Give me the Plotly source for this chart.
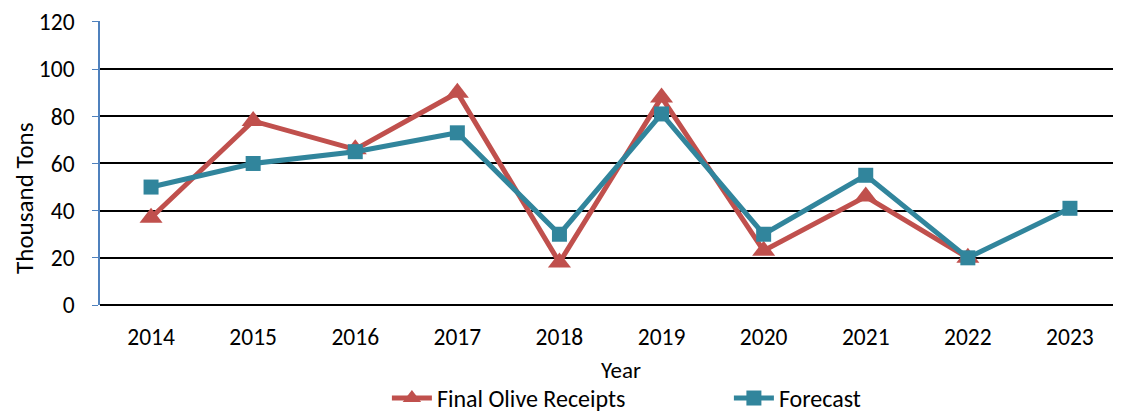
import plotly.graph_objects as go

years = ["2014", "2015", "2016", "2017", "2018", "2019", "2020", "2021", "2022", "2023"]
final_receipts = [37, 78, 66, 90, 18, 88, 23, 46, 20, None]
forecast = [50, 60, 65, 73, 30, 81, 30, 55, 20, 41]

FONT = "Carlito, Calibri, Lato, sans-serif"
RED = "#C0504D"
TEAL = "#31859C"

fig = go.Figure()
fig.add_trace(go.Scatter(
    x=years, y=final_receipts, name="Final Olive Receipts", mode="lines+markers",
    line=dict(color=RED, width=5), marker=dict(symbol="triangle-up", size=20, color=RED),
    connectgaps=False,
))
fig.add_trace(go.Scatter(
    x=years, y=forecast, name="Forecast", mode="lines+markers",
    line=dict(color=TEAL, width=5), marker=dict(symbol="square", size=15, color=TEAL),
))

fig.update_layout(
    width=1113, height=405,
    margin=dict(l=92, r=0, t=13, b=108, autoexpand=False),
    paper_bgcolor="white", plot_bgcolor="white",
    font=dict(family=FONT, size=23, color="black"),
    showlegend=True,
    legend=dict(orientation="h", x=0.281, xanchor="left", yref="container", y=0.036, yanchor="middle",
                font=dict(size=24), itemwidth=40, entrywidth=287, traceorder="normal",
                bgcolor="rgba(0,0,0,0)"),
    annotations=[
        dict(text="Thousand Tons", textangle=-90, xref="paper", yref="paper",
             x=-0.0735, y=0.377, xanchor="center", yanchor="middle",
             showarrow=False, font=dict(size=25), borderpad=0),
        dict(text="Year", xref="paper", yref="paper",
             x=0.510, y=-0.229, xanchor="center", yanchor="middle",
             showarrow=False, font=dict(size=23)),
    ],
)
fig.update_xaxes(
    type="category", range=[-0.5, len(years) - 0.5],
    showgrid=False, showline=False, ticks="", automargin=False,
    tickfont=dict(size=23.5), ticklabelstandoff=15,
)
fig.update_yaxes(
    range=[0, 120.4], tickvals=[0, 20, 40, 60, 80, 100, 120], automargin=False,
    showgrid=True, gridcolor="black", gridwidth=1.5,
    showline=True, linecolor="#4F81BD", linewidth=1.5,
    ticks="outside", tickcolor="#4F81BD", ticklen=6,
    zeroline=True, zerolinecolor="black", zerolinewidth=1.5,
    tickfont=dict(size=23.5), ticklabelstandoff=13,
)

fig.write_html("out.html")
